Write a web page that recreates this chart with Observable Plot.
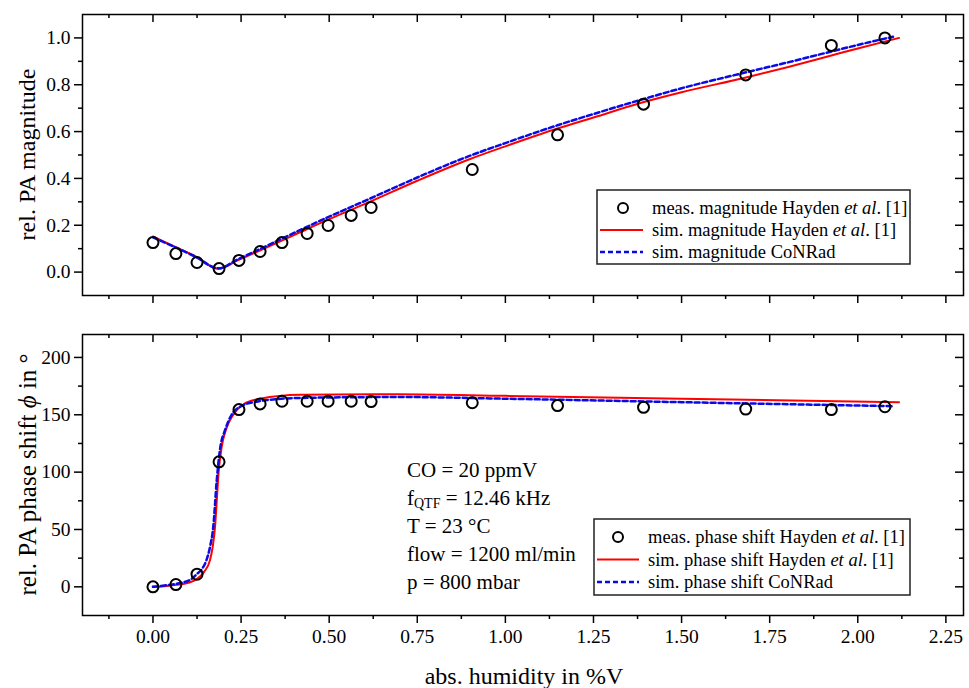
<!DOCTYPE html>
<html>
<head>
<meta charset="utf-8">
<script src="https://cdn.jsdelivr.net/npm/d3@7"></script>
<script src="https://cdn.jsdelivr.net/npm/@observablehq/plot@0.6"></script>
<style>
  body { margin: 0; background: #fff; }
  #chart { position: relative; width: 969px; height: 688px; }
  #chart svg { display: block; overflow: visible; }
</style>
</head>
<body>
<div id="chart"></div>
<script>
// ---- measured data (Hayden et al.) ----
const humidity = [0, 0.065, 0.125, 0.1875, 0.244, 0.304, 0.366, 0.4375, 0.497, 0.5625, 0.619, 0.906, 1.148, 1.392, 1.682, 1.925, 2.077];
const measMagnitude = [0.126, 0.079, 0.041, 0.015, 0.05, 0.088, 0.126, 0.165, 0.199, 0.242, 0.276, 0.438, 0.586, 0.717, 0.842, 0.968, 1.0];
const measPhase = [0, 2, 11, 109, 154.5, 159.5, 161.8, 161.8, 161.8, 161.8, 161.5, 160.5, 158, 156.5, 155, 154.5, 157];

// ---- simulated magnitude ----
const magHaydenX = [0, 0.06, 0.12, 0.186, 0.24, 0.3, 0.4, 0.5, 0.6, 0.75, 0.9, 1.0, 1.15, 1.25, 1.383, 1.5, 1.68, 1.8, 1.925, 2.0, 2.117];
const magHaydenY = [0.152, 0.11, 0.068, 0.014, 0.05, 0.09, 0.158, 0.226, 0.29, 0.39, 0.483, 0.537, 0.614, 0.66, 0.722, 0.768, 0.83, 0.875, 0.925, 0.955, 1.0];
const magConradX = [0, 0.06, 0.12, 0.186, 0.24, 0.3, 0.4, 0.5, 0.6, 0.75, 0.9, 1.0, 1.15, 1.25, 1.383, 1.5, 1.68, 1.8, 1.925, 2.0, 2.1];
const magConradY = [0.148, 0.108, 0.066, 0.016, 0.054, 0.096, 0.167, 0.237, 0.303, 0.404, 0.497, 0.551, 0.628, 0.675, 0.735, 0.785, 0.852, 0.895, 0.942, 0.97, 1.005];

// ---- simulated phase shift ----
const phaseHaydenX = [0, 0.04, 0.067, 0.1, 0.124, 0.145, 0.162, 0.17, 0.176, 0.181, 0.186, 0.195, 0.207, 0.228, 0.256, 0.304, 0.418, 0.7, 1.0, 1.5, 2.117];
const phaseHaydenY = [0, 0.8, 1.7, 3.5, 6.7, 13, 23.5, 36, 52, 75, 99, 122, 137, 150, 159, 164, 167.5, 168, 166.5, 164, 161];
const phaseConradX = [0, 0.04, 0.08, 0.11, 0.124, 0.14, 0.152, 0.162, 0.171, 0.181, 0.19, 0.205, 0.223, 0.247, 0.304, 0.418, 0.7, 1.0, 1.5, 2.1];
const phaseConradY = [0, 1.5, 3.5, 7, 11, 16, 23.5, 35, 52, 93, 119.5, 137, 150, 157, 162, 164.7, 165.5, 164, 161, 157.5];

// ---- axes ----
const xMajor = [0, 0.25, 0.5, 0.75, 1.0, 1.25, 1.5, 1.75, 2.0, 2.25];
const xMinor = [-0.125, 0.125, 0.375, 0.625, 0.875, 1.125, 1.375, 1.625, 1.875, 2.125];
const magMajor = [0, 0.2, 0.4, 0.6, 0.8, 1.0];
const magMinor = [0.1, 0.3, 0.5, 0.7, 0.9];
const phaseMajor = [0, 50, 100, 150, 200];
const phaseMinor = [25, 75, 125, 175];

const conditions = ["CO = 20 ppmV", "fQTF = 12.46 kHz", "T = 23 °C", "flow = 1200 ml/min", "p = 800 mbar"];

const FONT = "'Liberation Serif', 'Times New Roman', serif";
const W = 969, ML = 82, MR = 6;
const RED = "#ff0000", BLUE = "#0a0ae6";

const pts = (xs, ys) => xs.map((x, i) => ({x, y: ys[i]}));

function panel({height, marginTop, marginBottom, yDomain, yMajor, yMinor, yFormat, simA, simB, meas, showXLabels}) {
  const fh = height - marginTop - marginBottom;
  const fw = W - ML - MR;
  return Plot.plot({
    width: W, height, marginLeft: ML, marginRight: MR, marginTop, marginBottom,
    style: {fontFamily: FONT, fontSize: "19px", color: "black", background: "white"},
    x: {domain: [-0.2, 2.3]},
    y: {domain: yDomain},
    marks: [
      Plot.line(simA, {x: "x", y: "y", stroke: RED, strokeWidth: 2, curve: "monotone-x"}),
      Plot.line(simB, {x: "x", y: "y", stroke: BLUE, strokeWidth: 2.5, strokeDasharray: "5,3", curve: "monotone-x"}),
      Plot.dot(meas, {x: "x", y: "y", r: 5.5, stroke: "black", strokeWidth: 2, fill: "none"}),
      // outward ticks: left and bottom
      Plot.axisY({ticks: yMajor, tickSize: 8, tickPadding: 4, tickFormat: yFormat, label: null, strokeWidth: 1.5, fontSize: 19.5}),
      Plot.axisY({ticks: yMinor, tickSize: 4, tickFormat: () => "", label: null, strokeWidth: 1.5}),
      Plot.axisX({ticks: xMajor, tickSize: 8, tickPadding: 6, tickFormat: showXLabels ? d3.format(".2f") : () => "", label: null, strokeWidth: 1.5, fontSize: 19.5}),
      Plot.axisX({ticks: xMinor, tickSize: 4, tickFormat: () => "", label: null, strokeWidth: 1.5}),
      // inward ticks: top and right
      Plot.ruleX(xMajor, {x: d => d, insetBottom: fh - 8, strokeWidth: 1.5}),
      Plot.ruleX(xMinor, {x: d => d, insetBottom: fh - 4, strokeWidth: 1.5}),
      Plot.ruleY(yMajor, {y: d => d, insetLeft: fw - 8, strokeWidth: 1.5}),
      Plot.ruleY(yMinor, {y: d => d, insetLeft: fw - 4, strokeWidth: 1.5}),
      Plot.frame({stroke: "black", strokeWidth: 1.5})
    ]
  });
}

const magPanel = panel({
  height: 310, marginTop: 14, marginBottom: 15,
  yDomain: [-0.1, 1.1], yMajor: magMajor, yMinor: magMinor, yFormat: d3.format(".1f"),
  simA: pts(magHaydenX, magHaydenY), simB: pts(magConradX, magConradY),
  meas: pts(humidity, measMagnitude), showXLabels: false
});
const phasePanel = panel({
  height: 378, marginTop: 24, marginBottom: 73,
  yDomain: [-25, 220], yMajor: phaseMajor, yMinor: phaseMinor, yFormat: d3.format("d"),
  simA: pts(phaseHaydenX, phaseHaydenY), simB: pts(phaseConradX, phaseConradY),
  meas: pts(humidity, measPhase), showXLabels: true
});

const chart = document.getElementById("chart");
chart.appendChild(magPanel);
chart.appendChild(phasePanel);

// ---- axis titles ----
function yTitle(svg, cy, size, parts) {
  const t = d3.select(svg).append("text")
    .attr("transform", `translate(27,${cy}) rotate(-90)`)
    .attr("text-anchor", "middle").attr("dominant-baseline", "central")
    .attr("font-family", FONT).attr("font-size", size).attr("fill", "black");
  parts.forEach(([s, it]) => t.append("tspan").attr("font-style", it ? "italic" : null).text(s));
}
yTitle(magPanel, (14 + 295) / 2, 24, [["rel. PA magnitude", false]]);
yTitle(phasePanel, (24 + 305) / 2, 25, [["rel. PA phase shift ", false], ["ϕ", true], [" in °", false]]);

d3.select(phasePanel).append("text")
  .attr("x", 524).attr("y", 374)
  .attr("text-anchor", "middle")
  .attr("font-family", FONT).attr("font-size", 24).attr("fill", "black")
  .text("abs. humidity in %V");

// ---- legends ----
function legend(svg, box, rows, symX, lineX0, lineX1, textX, labels) {
  const g = d3.select(svg).append("g").attr("font-family", FONT).attr("font-size", 18.5).attr("text-anchor", "start");
  g.append("rect").attr("x", box[0]).attr("y", box[1]).attr("width", box[2] - box[0]).attr("height", box[3] - box[1])
    .attr("fill", "white").attr("stroke", "#222").attr("stroke-width", 1.5);
  g.append("circle").attr("cx", symX).attr("cy", rows[0]).attr("r", 5).attr("fill", "none").attr("stroke", "black").attr("stroke-width", 2);
  g.append("line").attr("x1", lineX0).attr("x2", lineX1).attr("y1", rows[1]).attr("y2", rows[1]).attr("stroke", RED).attr("stroke-width", 2);
  g.append("line").attr("x1", lineX0).attr("x2", lineX1).attr("y1", rows[2]).attr("y2", rows[2]).attr("stroke", BLUE).attr("stroke-width", 2.5).attr("stroke-dasharray", "5,3");
  labels.forEach((parts, i) => {
    const t = g.append("text").attr("x", textX).attr("y", rows[i]).attr("dominant-baseline", "central").attr("fill", "black");
    parts.forEach(([s, it]) => t.append("tspan").attr("font-style", it ? "italic" : null).text(s));
  });
}
legend(magPanel, [597, 190, 910, 264], [208, 230, 252], 623, 600, 643, 652, [
  [["meas. magnitude Hayden ", false], ["et al", true], [". [1]", false]],
  [["sim. magnitude Hayden ", false], ["et al", true], [". [1]", false]],
  [["sim. magnitude CoNRad", false]]
]);
legend(phasePanel, [594, 209, 910, 285], [227, 249.5, 272], 618, 597, 639, 648, [
  [["meas. phase shift Hayden ", false], ["et al", true], [". [1]", false]],
  [["sim. phase shift Hayden ", false], ["et al", true], [". [1]", false]],
  [["sim. phase shift CoNRad", false]]
]);

// ---- measurement conditions ----
const cond = d3.select(phasePanel).append("g").attr("font-family", FONT).attr("font-size", 21).attr("fill", "black").attr("text-anchor", "start");
conditions.forEach((line, i) => {
  const t = cond.append("text").attr("x", 407).attr("y", 160 + i * 28).attr("dominant-baseline", "central");
  if (line.startsWith("fQTF")) {
    t.append("tspan").text("f");
    t.append("tspan").attr("font-size", 14).attr("dy", 5).text("QTF");
    t.append("tspan").attr("dy", -5).text(line.slice(4));
  } else {
    t.text(line);
  }
});
</script>
</body>
</html>
